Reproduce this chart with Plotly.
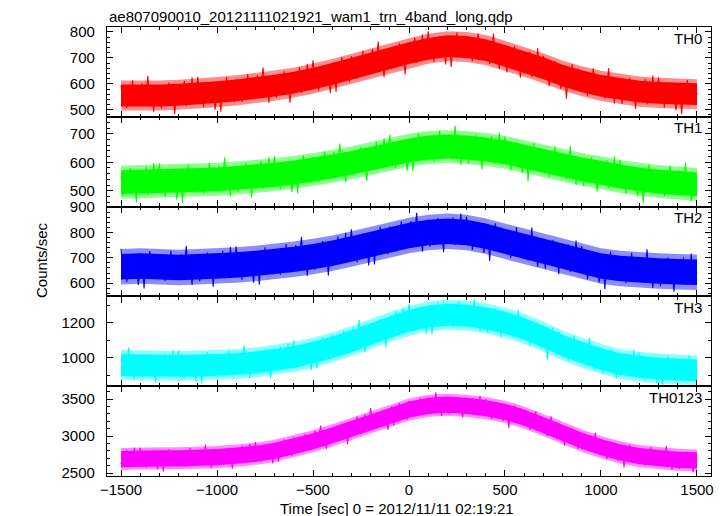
import plotly.graph_objects as go

# ---------------- data ----------------
# fine-binned light curves (10 s bins)
time_sec = list(range(-1500, 1501, 10))

th0 = [
    594, 529, 565, 506, 584, 548, 614, 519, 571, 535,
    542, 601, 513, 562, 630, 526, 578, 493, 588, 545,
    576, 504, 592, 540, 559, 605, 517, 569, 484, 582,
    527, 586, 557, 612, 514, 570, 537, 625, 534, 567,
    627, 549, 594, 510, 578, 532, 607, 558, 585, 500,
    564, 607, 493, 594, 551, 626, 542, 574, 610, 529,
    618, 553, 589, 530, 608, 572, 638, 543, 595, 559,
    575, 634, 546, 595, 663, 559, 611, 526, 621, 578,
    619, 547, 635, 583, 602, 648, 560, 612, 527, 625,
    579, 638, 609, 664, 566, 622, 589, 677, 586, 619,
    691, 613, 658, 574, 642, 596, 671, 622, 649, 564,
    641, 684, 570, 671, 628, 703, 619, 651, 687, 606,
    707, 642, 678, 619, 697, 661, 727, 632, 684, 648,
    675, 734, 646, 695, 763, 659, 711, 626, 721, 678,
    728, 656, 744, 692, 711, 757, 669, 721, 636, 734,
    693, 752, 723, 778, 680, 736, 703, 791, 700, 733,
    802, 724, 769, 685, 753, 707, 782, 733, 760, 675,
    736, 779, 665, 766, 723, 798, 714, 746, 782, 701,
    775, 710, 746, 687, 765, 729, 795, 700, 752, 716,
    706, 765, 677, 726, 794, 690, 742, 657, 752, 709,
    716, 644, 732, 680, 699, 745, 657, 709, 624, 722,
    639, 698, 669, 724, 626, 682, 649, 737, 646, 679,
    708, 630, 675, 591, 659, 613, 688, 639, 666, 581,
    614, 657, 543, 644, 601, 676, 592, 624, 660, 579,
    640, 575, 611, 552, 630, 594, 660, 565, 617, 581,
    573, 632, 544, 593, 661, 557, 609, 524, 619, 576,
    595, 523, 611, 559, 578, 624, 536, 588, 503, 601,
    534, 593, 564, 619, 521, 577, 544, 632, 541, 574,
    625, 547, 592, 508, 576, 530, 605, 556, 583, 498,
    554, 597, 483, 584, 541, 616, 532, 564, 600, 519,
    565,
]

th1 = [
    551, 479, 567, 515, 534, 580, 492, 544, 459, 557,
    499, 558, 529, 584, 486, 542, 509, 597, 506, 539,
    596, 518, 563, 479, 547, 501, 576, 527, 554, 469,
    529, 572, 458, 559, 516, 591, 507, 539, 575, 494,
    577, 512, 548, 489, 567, 531, 597, 502, 554, 518,
    529, 588, 500, 549, 617, 513, 565, 480, 575, 532,
    567, 495, 583, 531, 550, 596, 508, 560, 475, 573,
    520, 579, 550, 605, 507, 563, 530, 618, 527, 560,
    622, 544, 589, 505, 573, 527, 602, 553, 580, 495,
    562, 605, 491, 592, 549, 624, 540, 572, 608, 527,
    618, 553, 589, 530, 608, 572, 638, 543, 595, 559,
    578, 637, 549, 598, 666, 562, 614, 529, 624, 581,
    625, 553, 641, 589, 608, 654, 566, 618, 533, 631,
    587, 646, 617, 672, 574, 630, 597, 685, 594, 627,
    697, 619, 664, 580, 648, 602, 677, 628, 655, 570,
    640, 683, 569, 670, 627, 702, 618, 650, 686, 605,
    692, 627, 663, 604, 682, 646, 712, 617, 669, 633,
    640, 699, 611, 660, 728, 624, 676, 591, 686, 643,
    668, 596, 684, 632, 651, 697, 609, 661, 576, 674,
    607, 666, 637, 692, 594, 650, 617, 705, 614, 647,
    689, 611, 656, 572, 640, 594, 669, 620, 647, 562,
    605, 648, 534, 635, 592, 667, 583, 615, 651, 570,
    636, 571, 607, 548, 626, 590, 656, 561, 613, 577,
    569, 628, 540, 589, 657, 553, 605, 520, 615, 572,
    589, 517, 605, 553, 572, 618, 530, 582, 497, 595,
    523, 582, 553, 608, 510, 566, 533, 621, 530, 563,
    607, 529, 574, 490, 558, 512, 587, 538, 565, 480,
    529, 572, 458, 559, 516, 591, 507, 539, 575, 494,
    568, 503, 539, 480, 558, 522, 588, 493, 545, 509,
    511, 570, 482, 531, 599, 495, 547, 462, 557, 514,
    525,
]

th2 = [
    736, 649, 698, 605, 681, 630, 712, 659, 688, 593,
    659, 707, 579, 692, 644, 727, 634, 669, 710, 620,
    707, 634, 675, 608, 695, 656, 728, 622, 680, 641,
    648, 714, 617, 670, 747, 631, 689, 593, 699, 651,
    688, 608, 707, 649, 669, 721, 622, 681, 586, 695,
    634, 699, 667, 728, 619, 682, 644, 743, 641, 677,
    745, 658, 707, 614, 690, 639, 721, 668, 697, 602,
    674, 722, 594, 707, 659, 742, 649, 684, 725, 635,
    733, 660, 701, 634, 721, 682, 754, 648, 706, 667,
    684, 750, 653, 706, 783, 667, 725, 629, 735, 687,
    733, 653, 752, 694, 714, 766, 667, 726, 631, 740,
    690, 755, 723, 784, 675, 738, 700, 799, 697, 733,
    813, 726, 775, 682, 758, 707, 789, 736, 765, 670,
    754, 802, 674, 787, 739, 822, 729, 764, 805, 715,
    823, 750, 791, 724, 811, 772, 844, 738, 796, 757,
    779, 845, 748, 801, 878, 762, 820, 724, 830, 782,
    824, 744, 843, 785, 805, 857, 758, 817, 722, 831,
    766, 831, 799, 860, 751, 814, 776, 875, 773, 809,
    862, 775, 824, 731, 807, 756, 838, 785, 814, 719,
    768, 816, 688, 801, 753, 836, 743, 778, 819, 729,
    799, 726, 767, 700, 787, 748, 820, 714, 772, 733,
    720, 786, 689, 742, 819, 703, 761, 665, 771, 723,
    737, 657, 756, 698, 718, 770, 671, 730, 635, 744,
    659, 724, 692, 753, 644, 707, 669, 768, 666, 702,
    746, 659, 708, 615, 691, 640, 722, 669, 698, 603,
    656, 704, 576, 689, 641, 724, 631, 666, 707, 617,
    699, 626, 667, 600, 687, 648, 720, 614, 672, 633,
    635, 701, 604, 657, 734, 618, 676, 580, 686, 638,
    668, 588, 687, 629, 649, 701, 602, 661, 566, 675,
    608, 673, 641, 702, 593, 656, 618, 717, 615, 651,
    640,
]

th3 = [
    941, 1020, 903, 968, 1061, 920, 991, 875, 1003, 945,
    983, 887, 1006, 936, 961, 1024, 904, 975, 861, 992,
    911, 990, 951, 1025, 894, 969, 923, 1043, 920, 964,
    1040, 935, 995, 882, 974, 912, 1012, 947, 982, 868,
    950, 1008, 854, 991, 933, 1033, 920, 963, 1012, 903,
    1016, 928, 977, 896, 1002, 954, 1042, 914, 984, 937,
    952, 1031, 914, 979, 1072, 931, 1002, 886, 1014, 956,
    1008, 912, 1031, 961, 986, 1049, 929, 1000, 886, 1017,
    953, 1032, 993, 1067, 936, 1011, 965, 1085, 962, 1006,
    1102, 997, 1057, 944, 1036, 974, 1074, 1009, 1044, 930,
    1036, 1094, 940, 1077, 1019, 1119, 1006, 1049, 1098, 989,
    1131, 1043, 1092, 1011, 1117, 1069, 1157, 1029, 1099, 1052,
    1097, 1176, 1059, 1124, 1217, 1076, 1147, 1031, 1159, 1101,
    1181, 1085, 1204, 1134, 1159, 1222, 1102, 1173, 1059, 1190,
    1149, 1228, 1189, 1263, 1132, 1207, 1161, 1281, 1158, 1202,
    1307, 1202, 1262, 1149, 1241, 1179, 1279, 1214, 1249, 1135,
    1231, 1289, 1135, 1272, 1214, 1314, 1201, 1244, 1293, 1184,
    1296, 1208, 1257, 1176, 1282, 1234, 1322, 1194, 1264, 1217,
    1215, 1294, 1177, 1242, 1335, 1194, 1265, 1149, 1277, 1219,
    1239, 1143, 1262, 1192, 1217, 1280, 1160, 1231, 1117, 1248,
    1139, 1218, 1179, 1253, 1122, 1197, 1151, 1271, 1148, 1192,
    1227, 1122, 1182, 1069, 1161, 1099, 1199, 1134, 1169, 1055,
    1086, 1144, 990, 1127, 1069, 1169, 1056, 1099, 1148, 1039,
    1103, 1015, 1064, 983, 1089, 1041, 1129, 1001, 1071, 1024,
    995, 1074, 957, 1022, 1115, 974, 1045, 929, 1057, 999,
    1006, 910, 1029, 959, 984, 1047, 927, 998, 884, 1015,
    914, 993, 954, 1028, 897, 972, 926, 1046, 923, 967,
    1029, 924, 984, 871, 963, 901, 1001, 936, 971, 857,
    929, 987, 833, 970, 912, 1012, 899, 942, 991, 882,
    986, 898, 947, 866, 972, 924, 1012, 884, 954, 907,
    940,
]

th0123 = [
    2620, 2755, 2689, 2815, 2590, 2719, 2641, 2845, 2635, 2710,
    2844, 2664, 2766, 2574, 2730, 2625, 2796, 2685, 2745, 2550,
    2685, 2784, 2520, 2754, 2655, 2826, 2634, 2706, 2790, 2604,
    2793, 2643, 2727, 2589, 2769, 2688, 2838, 2619, 2739, 2658,
    2680, 2815, 2614, 2725, 2884, 2644, 2764, 2566, 2785, 2686,
    2770, 2605, 2809, 2689, 2731, 2839, 2635, 2755, 2560, 2785,
    2673, 2808, 2742, 2868, 2643, 2772, 2694, 2898, 2688, 2763,
    2924, 2744, 2846, 2654, 2810, 2705, 2876, 2765, 2825, 2630,
    2815, 2914, 2650, 2884, 2785, 2956, 2764, 2836, 2920, 2734,
    2985, 2835, 2919, 2781, 2961, 2880, 3030, 2811, 2931, 2850,
    2940, 3075, 2874, 2985, 3144, 2904, 3024, 2826, 3045, 2946,
    3100, 2935, 3139, 3019, 3061, 3169, 2965, 3085, 2890, 3115,
    3070, 3205, 3139, 3265, 3040, 3169, 3091, 3295, 3085, 3160,
    3379, 3199, 3301, 3109, 3265, 3160, 3331, 3220, 3280, 3085,
    3305, 3404, 3140, 3374, 3275, 3446, 3254, 3326, 3410, 3224,
    3475, 3325, 3409, 3271, 3451, 3370, 3520, 3301, 3421, 3340,
    3388, 3523, 3322, 3433, 3592, 3352, 3472, 3274, 3493, 3394,
    3463, 3298, 3502, 3382, 3424, 3532, 3328, 3448, 3253, 3478,
    3320, 3455, 3389, 3515, 3290, 3419, 3341, 3545, 3335, 3410,
    3499, 3319, 3421, 3229, 3385, 3280, 3451, 3340, 3400, 3205,
    3275, 3374, 3110, 3344, 3245, 3416, 3224, 3296, 3380, 3194,
    3290, 3140, 3224, 3086, 3266, 3185, 3335, 3116, 3236, 3155,
    3065, 3200, 2999, 3110, 3269, 3029, 3149, 2951, 3170, 3071,
    3035, 2870, 3074, 2954, 2996, 3104, 2900, 3020, 2825, 3050,
    2820, 2955, 2889, 3015, 2790, 2919, 2841, 3045, 2835, 2910,
    2959, 2779, 2881, 2689, 2845, 2740, 2911, 2800, 2860, 2665,
    2740, 2839, 2575, 2809, 2710, 2881, 2689, 2761, 2845, 2659,
    2805, 2655, 2739, 2601, 2781, 2700, 2850, 2631, 2751, 2670,
    2660, 2795, 2594, 2705, 2864, 2624, 2744, 2546, 2765, 2666,
    2720, 2555, 2759, 2639, 2681, 2789, 2585, 2705, 2510, 2735,
    2680,
]

# band outlines read every 100 s: dense core and the fainter outer fringe
core_time = list(range(-1500, 1501, 100))
th0_low = [513, 513, 513, 516, 520, 526, 533, 541, 551, 563, 578, 596, 616, 636, 656, 676,
           693, 703, 700, 688, 666, 643, 618, 590, 568, 550, 538, 528, 523, 520, 518]
th0_high = [597, 597, 597, 600, 604, 610, 617, 625, 635, 647, 662, 680, 700, 720, 740, 760,
            777, 787, 784, 772, 750, 727, 702, 674, 652, 634, 622, 612, 607, 604, 602]
th0_outer_low = [497, 497, 497, 500, 504, 510, 517, 525, 535, 547, 562, 580, 600, 620, 640, 660,
                 677, 687, 684, 672, 650, 627, 602, 574, 552, 534, 522, 512, 507, 504, 502]
th0_outer_high = [613, 613, 613, 616, 620, 626, 633, 641, 651, 663, 678, 696, 716, 736, 756, 776,
                  793, 803, 800, 788, 766, 743, 718, 690, 668, 650, 638, 628, 623, 620, 618]

th1_low = [488, 490, 491, 493, 495, 498, 503, 508, 514, 522, 532, 543, 556, 570, 586, 600,
           610, 613, 610, 603, 593, 578, 563, 548, 533, 521, 508, 498, 490, 485, 480]
th1_high = [572, 574, 575, 577, 579, 582, 587, 592, 598, 606, 616, 627, 640, 654, 670, 684,
            694, 697, 694, 687, 677, 662, 647, 632, 617, 605, 592, 582, 574, 569, 564]
th1_outer_low = [472, 474, 475, 477, 479, 482, 487, 492, 498, 506, 516, 527, 540, 554, 570, 584,
                 594, 597, 594, 587, 577, 562, 547, 532, 517, 505, 492, 482, 474, 469, 464]
th1_outer_high = [588, 590, 591, 593, 595, 598, 603, 608, 614, 622, 632, 643, 656, 670, 686, 700,
                  710, 713, 710, 703, 693, 678, 663, 648, 633, 621, 608, 598, 590, 585, 580]

th2_low = [615, 618, 615, 612, 615, 618, 622, 628, 635, 644, 655, 668, 685, 702, 720, 738,
           750, 755, 750, 735, 715, 695, 675, 655, 635, 618, 608, 602, 598, 595, 593]
th2_high = [715, 718, 715, 712, 715, 718, 722, 728, 735, 744, 755, 768, 785, 802, 820, 838,
            850, 855, 850, 835, 815, 795, 775, 755, 735, 718, 708, 702, 698, 695, 693]
th2_outer_low = [595, 598, 595, 592, 595, 598, 602, 608, 615, 624, 635, 648, 665, 682, 700, 718,
                 730, 735, 730, 715, 695, 675, 655, 635, 615, 598, 588, 582, 578, 575, 573]
th2_outer_high = [735, 738, 735, 732, 735, 738, 742, 748, 755, 764, 775, 788, 805, 822, 840, 858,
                  870, 875, 870, 855, 835, 815, 795, 775, 755, 738, 728, 722, 718, 715, 713]

th3_low = [898, 896, 893, 893, 895, 898, 903, 913, 926, 943, 968, 998, 1033, 1073, 1113, 1148,
           1173, 1183, 1178, 1163, 1138, 1103, 1058, 1008, 968, 933, 903, 888, 878, 873, 868]
th3_high = [1022, 1020, 1017, 1017, 1019, 1022, 1027, 1037, 1050, 1067, 1092, 1122, 1157, 1197, 1237, 1272,
            1297, 1307, 1302, 1287, 1262, 1227, 1182, 1132, 1092, 1057, 1027, 1012, 1002, 997, 992]
th3_outer_low = [875, 873, 870, 870, 872, 875, 880, 890, 903, 920, 945, 975, 1010, 1050, 1090, 1125,
                 1150, 1160, 1155, 1140, 1115, 1080, 1035, 985, 945, 910, 880, 865, 855, 850, 845]
th3_outer_high = [1045, 1043, 1040, 1040, 1042, 1045, 1050, 1060, 1073, 1090, 1115, 1145, 1180, 1220, 1260, 1295,
                  1320, 1330, 1325, 1310, 1285, 1250, 1205, 1155, 1115, 1080, 1050, 1035, 1025, 1020, 1015]

th0123_low = [2580, 2590, 2590, 2590, 2595, 2605, 2625, 2650, 2690, 2750, 2820, 2900, 2990, 3080, 3170, 3250,
              3300, 3315, 3300, 3270, 3220, 3140, 3040, 2930, 2830, 2740, 2670, 2620, 2590, 2570, 2560]
th0123_high = [2800, 2810, 2810, 2810, 2815, 2825, 2845, 2870, 2910, 2970, 3040, 3120, 3210, 3300, 3390, 3470,
               3520, 3535, 3520, 3490, 3440, 3360, 3260, 3150, 3050, 2960, 2890, 2840, 2810, 2790, 2780]
th0123_outer_low = [2540, 2550, 2550, 2550, 2555, 2565, 2585, 2610, 2650, 2710, 2780, 2860, 2950, 3040, 3130, 3210,
                    3260, 3275, 3260, 3230, 3180, 3100, 3000, 2890, 2790, 2700, 2630, 2580, 2550, 2530, 2520]
th0123_outer_high = [2840, 2850, 2850, 2850, 2855, 2865, 2885, 2910, 2950, 3010, 3080, 3160, 3250, 3340, 3430, 3510,
                     3560, 3575, 3560, 3530, 3480, 3400, 3300, 3190, 3090, 3000, 2930, 2880, 2850, 2830, 2820]

band_names = ["TH0", "TH1", "TH2", "TH3", "TH0123"]
title_text = "ae807090010_20121111021921_wam1_trn_4band_long.qdp"
x_title = "Time [sec] 0 = 2012/11/11 02:19:21"
y_title = "Counts/sec"

# ---------------- styling ----------------
series = [th0, th1, th2, th3, th0123]
lows = [th0_low, th1_low, th2_low, th3_low, th0123_low]
highs = [th0_high, th1_high, th2_high, th3_high, th0123_high]
outer_lows = [th0_outer_low, th1_outer_low, th2_outer_low, th3_outer_low, th0123_outer_low]
outer_highs = [th0_outer_high, th1_outer_high, th2_outer_high, th3_outer_high, th0123_outer_high]
colors = ["#ff0000", "#00ff00", "#0000ff", "#00ffff", "#ff00ff"]
halo_colors = ["rgba(255,0,0,0.45)", "rgba(0,255,0,0.45)", "rgba(0,0,255,0.45)",
               "rgba(0,255,255,0.45)", "rgba(255,0,255,0.45)"]
y_ranges = [[473, 819], [444, 760], [548, 902], [840, 1349], [2460, 3676]]
y_dticks = [100, 100, 100, 200, 500]
y_minor = [20, 20, 20, 100, 100]

W, H = 726, 516
L, R, T, B = 107, 15, 27, 40
PW, PH = W - L - R, H - T - B
FONT = "Liberation Sans, Arial, sans-serif"
n = len(series)


def band(fig, x, lo, hi, fillcolor, xa, ya):
    fig.add_trace(go.Scatter(
        x=x, y=lo, mode="lines", line=dict(width=0, color=fillcolor),
        xaxis=xa, yaxis=ya, showlegend=False, hoverinfo="skip",
    ))
    fig.add_trace(go.Scatter(
        x=x, y=hi, mode="lines", line=dict(width=0, color=fillcolor),
        fill="tonexty", fillcolor=fillcolor,
        xaxis=xa, yaxis=ya, showlegend=False, hoverinfo="skip",
    ))


fig = go.Figure()
layout = {}
for i in range(n):
    sfx = "" if i == 0 else str(i + 1)
    xa, ya = "x" + sfx, "y" + sfx
    band(fig, core_time, outer_lows[i], outer_highs[i], halo_colors[i], xa, ya)
    band(fig, core_time, lows[i], highs[i], colors[i], xa, ya)
    fig.add_trace(go.Scatter(
        x=time_sec, y=series[i], mode="lines",
        line=dict(color=colors[i], width=1.1, simplify=False),
        xaxis=xa, yaxis=ya, showlegend=False, hoverinfo="skip",
    ))
    dom = [1 - (i + 1) / n, 1 - i / n]
    layout["xaxis" + sfx] = dict(
        domain=[0, 1], anchor=ya, range=[-1573, 1573],
        tick0=0, dtick=500, ticks="inside", ticklen=6, tickwidth=1, tickcolor="black",
        minor=dict(dtick=100, ticks="inside", ticklen=3, tickwidth=1, tickcolor="black"),
        mirror="allticks", showline=True, linecolor="black", linewidth=1.3,
        showgrid=False, zeroline=False, showticklabels=(i == n - 1),
        tickfont=dict(family=FONT, size=15, color="black"),
    )
    layout["yaxis" + sfx] = dict(
        domain=dom, anchor=xa, range=y_ranges[i],
        tick0=0, dtick=y_dticks[i], ticks="inside", ticklen=6, tickwidth=1, tickcolor="black",
        minor=dict(dtick=y_minor[i], ticks="inside", ticklen=3, tickwidth=1, tickcolor="black"),
        mirror="allticks", showline=True, linecolor="black", linewidth=1.3,
        showgrid=False, zeroline=False,
        tickfont=dict(family=FONT, size=15, color="black"),
        ticklabelstandoff=8,
    )

annotations = []
for i in range(n):
    top_px = T + PH * i / n
    annotations.append(dict(
        text=band_names[i], xref="paper", yref="paper",
        x=(704 - L) / PW, y=(H - B - (top_px + 11)) / PH,
        xanchor="right", yanchor="middle", showarrow=False,
        font=dict(family=FONT, size=15, color="black"),
    ))
annotations.append(dict(
    text=title_text, xref="paper", yref="paper",
    x=0, y=(H - B - 17) / PH, xanchor="left", yanchor="middle", showarrow=False,
    font=dict(family=FONT, size=15, color="black"),
))
annotations.append(dict(
    text=x_title, xref="paper", yref="paper",
    x=(397 - L) / PW, y=(H - B - 508) / PH, xanchor="center", yanchor="middle",
    showarrow=False, font=dict(family=FONT, size=15, color="black"),
))
annotations.append(dict(
    text=y_title, xref="paper", yref="paper", textangle=-90,
    x=(41 - L) / PW, y=(H - B - 260) / PH, xanchor="center", yanchor="middle",
    showarrow=False, font=dict(family=FONT, size=15, color="black"),
))

fig.update_layout(
    width=W, height=H,
    margin=dict(l=L, r=R, t=T, b=B, pad=0),
    paper_bgcolor="white", plot_bgcolor="white",
    annotations=annotations,
    **layout,
)

fig.write_html(
    "out.html",
    config={"displayModeBar": False},
    post_script="document.body.style.margin='0';document.body.style.overflow='hidden';",
)
